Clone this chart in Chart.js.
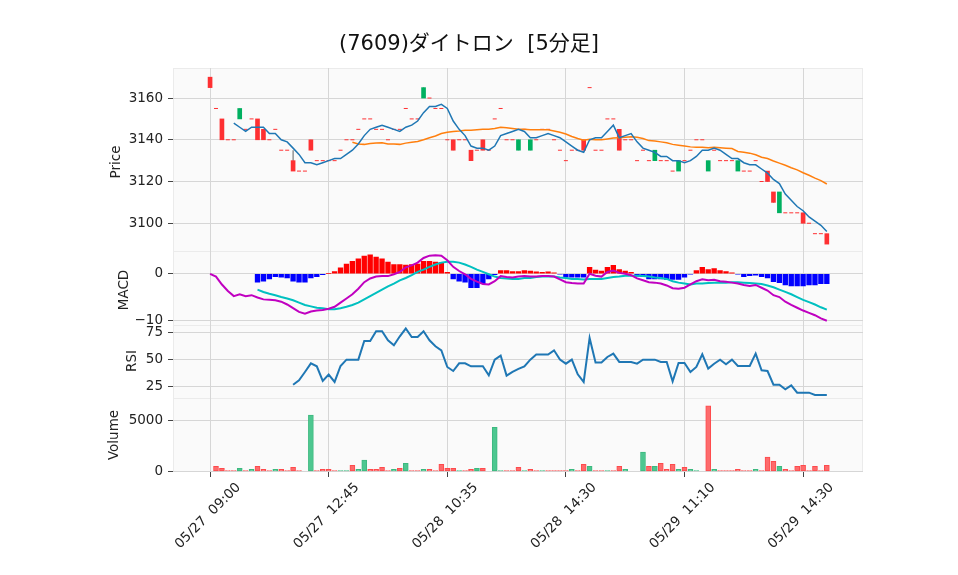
<!DOCTYPE html>
<html><head><meta charset="utf-8">
<script src="https://cdn.jsdelivr.net/npm/chart.js@4.4.1/dist/chart.umd.min.js"></script>
<style>html,body{margin:0;padding:0;background:#fff;}#wrap{width:958px;height:575px;}</style>
</head><body><div id="wrap"><canvas id="c" width="958" height="575"></canvas></div>
<script>
const chartTitle = '(7609)ダイトロン  [5分足]';
const tickIndex = [0, 20, 40, 60, 80, 100];
const tickLabels = ['05/27  09:00', '05/27  12:45', '05/28  10:35', '05/28  14:30', '05/29  11:10', '05/29  14:30'];

const opens = [3170,3155,3150,3140,3140,3150,3145,3150,3150,3145,
3140,3145,3135,3135,3130,3125,3125,3140,3130,3130,
3130,3130,3135,3140,3140,3145,3150,3150,3145,3145,
3140,3145,3145,3155,3150,3150,3160,3160,3155,3155,
3140,3140,3140,3140,3135,3135,3140,3135,3150,3155,
3140,3140,3135,3145,3135,3140,3145,3145,3140,3135,
3130,3135,3135,3140,3165,3135,3135,3150,3150,3145,
3140,3140,3130,3135,3130,3130,3130,3130,3125,3125,
3130,3135,3140,3140,3125,3135,3130,3130,3130,3125,
3125,3125,3130,3120,3125,3115,3105,3105,3105,3105,
3105,3100,3095,3095,3095];
const closes = [3165,3155,3140,3140,3140,3155,3145,3150,3140,3140,
3140,3145,3135,3135,3125,3125,3125,3135,3130,3130,
3130,3130,3135,3140,3140,3145,3150,3150,3145,3145,
3140,3145,3145,3155,3150,3150,3165,3160,3155,3155,
3140,3135,3140,3140,3130,3135,3135,3135,3150,3155,
3140,3140,3140,3145,3140,3140,3145,3145,3140,3135,
3130,3135,3135,3135,3165,3135,3135,3150,3150,3135,
3140,3140,3130,3135,3130,3135,3130,3130,3125,3130,
3130,3135,3140,3140,3130,3135,3130,3130,3130,3130,
3125,3125,3130,3120,3120,3110,3115,3105,3105,3105,
3100,3100,3095,3095,3090];
const highs = [3170,3155,3150,3140,3140,3155,3145,3150,3150,3145,
3140,3145,3135,3135,3135,3125,3125,3140,3130,3130,
3130,3130,3135,3140,3140,3145,3150,3150,3145,3145,
3140,3145,3145,3155,3150,3150,3165,3160,3155,3155,
3140,3140,3140,3140,3135,3135,3140,3135,3150,3155,
3140,3140,3140,3145,3140,3140,3145,3145,3140,3135,
3130,3135,3135,3140,3165,3135,3135,3150,3150,3145,
3140,3140,3130,3135,3130,3135,3130,3130,3125,3130,
3130,3135,3140,3140,3130,3135,3130,3130,3130,3130,
3125,3125,3130,3120,3125,3115,3115,3105,3105,3105,
3105,3100,3095,3095,3095];
const lows = [3165,3155,3140,3140,3140,3150,3145,3150,3140,3140,
3140,3145,3135,3135,3125,3125,3125,3135,3130,3130,
3130,3130,3135,3140,3140,3145,3150,3150,3145,3145,
3140,3145,3145,3155,3150,3150,3160,3160,3155,3155,
3140,3135,3140,3140,3130,3135,3135,3135,3150,3155,
3140,3140,3135,3145,3135,3140,3145,3145,3140,3135,
3130,3135,3135,3135,3165,3135,3135,3150,3150,3135,
3140,3140,3130,3135,3130,3130,3130,3130,3125,3125,
3130,3135,3140,3140,3125,3135,3130,3130,3130,3125,
3125,3125,3130,3120,3120,3110,3105,3105,3105,3105,
3100,3100,3095,3095,3090];

const ma5 = [null,null,null,null,3148,3146,3144,3146,3146,3146,
3143,3143,3140,3139,3136,3133,3129,3129,3128,3129,
3130,3131,3131,3133,3135,3138,3142,3145,3146,3147,
3146,3145,3144,3146,3147,3149,3153,3156,3156,3157,
3155,3149,3145,3142,3137,3136,3136,3135,3137,3142,
3143,3144,3145,3144,3141,3141,3142,3143,3142,3141,
3139,3137,3135,3134,3140,3141,3141,3144,3147,3141,
3142,3143,3139,3136,3135,3134,3132,3132,3130,3130,
3129,3130,3132,3135,3135,3136,3135,3133,3131,3131,
3129,3128,3128,3126,3124,3121,3119,3114,3111,3108,
3106,3103,3101,3099,3096];
const ma25 = [null,null,null,null,null,null,null,null,null,null,
null,null,null,null,null,null,null,null,null,null,
null,null,null,null,3138.8,3138.0,3137.8,3138.2,3138.4,3138.6,
3138.0,3138.0,3137.8,3138.4,3138.8,3139.2,3140.0,3141.0,3141.8,3143.0,
3143.6,3144.0,3144.2,3144.6,3144.6,3144.8,3145.0,3145.0,3145.4,3146.0,
3145.8,3145.4,3145.0,3145.0,3144.8,3144.8,3144.8,3144.8,3144.2,3143.6,
3142.8,3141.6,3140.6,3139.8,3140.2,3140.0,3140.0,3140.4,3140.8,3141.0,
3141.2,3141.4,3141.2,3140.6,3139.6,3139.4,3139.0,3138.6,3137.8,3137.4,
3137.0,3136.6,3136.4,3136.4,3136.2,3136.4,3136.2,3136.0,3135.8,3134.4,
3134.0,3133.6,3132.8,3131.6,3131.0,3129.8,3128.8,3127.8,3126.6,3125.6,
3124.2,3123.0,3121.6,3120.4,3118.8];

const macdLine = [0.0,-0.6,-2.3,-3.7,-4.8,-4.4,-4.8,-4.6,-5.1,-5.5,
-5.6,-5.7,-6.0,-6.6,-7.4,-8.2,-8.6,-8.1,-7.9,-7.8,
-7.5,-7.1,-6.2,-5.3,-4.4,-3.2,-1.8,-1.0,-0.6,-0.5,
-0.5,-0.1,0.4,1.4,1.8,2.4,3.4,3.9,4.0,3.9,
2.9,1.5,0.6,-0.1,-1.1,-1.7,-2.2,-2.3,-1.6,-0.5,
-0.7,-0.8,-0.6,-0.5,-0.6,-0.6,-0.5,-0.5,-0.6,-1.2,
-1.8,-2.0,-2.1,-2.1,0.0,-0.4,-0.6,0.4,0.7,0.2,
0.0,-0.3,-1.0,-1.4,-1.8,-1.9,-2.1,-2.5,-3.1,-3.2,
-3.0,-2.3,-1.6,-1.2,-1.4,-1.3,-1.6,-1.7,-1.9,-2.1,
-2.4,-2.6,-2.4,-3.0,-3.6,-4.6,-5.0,-6.0,-6.7,-7.3,
-7.9,-8.4,-8.9,-9.6,-10.1];
const signalLine = [null,null,null,null,null,null,null,null,-3.4,-3.9,
-4.3,-4.6,-5.0,-5.3,-5.7,-6.2,-6.7,-7.0,-7.3,-7.4,
-7.6,-7.6,-7.4,-7.1,-6.7,-6.2,-5.5,-4.8,-4.1,-3.4,
-2.7,-2.1,-1.4,-0.9,-0.3,0.4,0.9,1.5,2.0,2.4,
2.6,2.6,2.4,2.0,1.5,0.9,0.4,-0.1,-0.6,-0.9,
-1.0,-1.1,-1.1,-0.9,-0.9,-0.7,-0.6,-0.6,-0.6,-0.8,
-0.9,-1.1,-1.1,-1.2,-1.1,-1.1,-1.1,-0.9,-0.7,-0.6,
-0.4,-0.4,-0.4,-0.5,-0.6,-0.8,-0.9,-1.1,-1.6,-1.9,
-2.1,-2.3,-2.1,-2.1,-2.0,-1.9,-1.9,-1.9,-1.8,-1.8,
-1.9,-2.0,-2.1,-2.2,-2.5,-2.9,-3.4,-3.9,-4.4,-5.0,
-5.6,-6.1,-6.6,-7.2,-7.7];
const macdHist = [null,null,null,null,null,null,null,null,-1.8,-1.6,
-1.1,-0.6,-0.7,-0.9,-1.6,-1.8,-1.8,-0.9,-0.6,-0.2,
0.1,0.5,1.3,2.1,2.7,3.2,3.8,4.1,3.6,3.2,
2.5,2.0,2.0,1.9,2.0,2.1,2.7,2.7,2.5,2.4,
0.3,-1.1,-1.6,-1.8,-3.0,-3.0,-2.1,-1.1,-0.2,0.7,
0.7,0.5,0.5,0.7,0.6,0.4,0.3,0.4,0.2,-0.1,
-0.7,-0.7,-0.7,-0.7,1.4,0.8,0.6,1.4,1.8,0.9,
0.6,0.3,-0.5,-0.6,-1.1,-1.1,-1.1,-1.2,-1.2,-1.2,
-0.7,-0.1,0.7,1.4,0.9,1.1,0.7,0.5,0.2,-0.1,
-0.6,-0.4,-0.3,-0.6,-0.9,-1.7,-1.9,-2.4,-2.6,-2.6,
-2.6,-2.4,-2.4,-2.1,-2.1];

const rsi = [null,null,null,null,null,null,null,null,null,null,
null,null,null,null,27.1,31.1,38.7,46.6,43.9,30.5,
36.3,29.6,44.2,50,50,50,67.1,67.1,75.9,75.9,
67.7,63.1,71.3,78.4,70.7,70.7,75.9,67.7,62.2,58.5,
43.3,39.6,46.6,46.6,43.9,43.9,43.9,35.7,50,53.7,
35.4,38.8,41.5,43.9,50,54.6,54.6,54.6,58.5,50,
46.3,50,36.6,29.6,69.8,47.3,47.3,52.4,55.5,47.9,
47.9,47.9,46.3,50,50,50,47.9,47.9,30.2,47,
47,38.7,43.3,54.9,41.8,46.3,50,45.7,50,44.2,
44.2,44.2,55.5,40.2,39.6,27.1,27.1,22.9,26.5,19.8,
19.8,19.8,17.7,17.7,17.7];

const volume = [0,500,300,100,100,300,100,200,500,200,
100,200,200,100,400,100,0,5500,100,200,
200,100,100,100,600,200,1100,200,200,400,
100,200,300,800,100,100,200,200,100,700,
300,300,100,100,200,300,300,0,4300,100,
100,100,400,100,200,100,100,100,100,100,
100,200,100,700,500,100,100,100,100,500,
200,0,0,1900,500,500,800,200,700,200,
400,200,100,0,6400,200,100,100,100,200,
100,100,200,100,1400,1000,500,200,100,500,
600,100,500,100,600];

const priceTicks = [3100, 3120, 3140, 3160];
const macdTicks = [-10, 0];
const rsiTicks = [25, 50, 75];
const volTicks = [0, 5000];

// ---------- build datasets ----------
const FONT = "'DejaVu Sans', 'Noto Sans CJK JP', sans-serif";
const UP = '#00b060', DOWN = '#fe3032';
const bodyPts = [], bodyCol = [], dojiPts = [], wickPts = [];
for (let i = 0; i < closes.length; i++) {
  const o = opens[i], c = closes[i];
  if (o !== c) { bodyPts.push({x: i, y: [o, c]}); bodyCol.push(c > o ? UP : DOWN); }
  else dojiPts.push({x: i, y: c});
  if (highs[i] > lows[i]) wickPts.push({x: i, y: [lows[i], highs[i]]});
}
const series = arr => arr.map((v, i) => ({x: i, y: v})).filter(p => p.y !== null);
const volPts = [], volBg = [], volBd = [];
volume.forEach((v, i) => {
  if (v > 0) {
    volPts.push({x: i, y: v});
    const up = i > 0 && closes[i] > closes[i - 1];
    volBg.push(up ? '#4dc790' : '#fd6b6c');
    volBd.push(up ? '#3cb97f' : '#fe4a4c');
  }
});
const histPts = series(macdHist);

function yAxis(min, max, ticks, weight, stackWeight, fmt) {
  return {
    type: 'linear', position: 'left', stack: 'panels', stackWeight, weight,
    min, max, offset: false,
    border: {display: false},
    grid: {color: '#d6d6d6', lineWidth: 1, tickLength: 5, tickColor: '#444', drawTicks: true, offset: false},
    ticks: {font: {family: FONT, size: 13.5}, color: '#222', padding: 5, autoSkip: false, callback: fmt},
    afterBuildTicks(s) { s.ticks = ticks.map(v => ({value: v})); },
    afterFit(s) { s.width = 173; }
  };
}

const panelIds = ['yPrice', 'yMacd', 'yRsi', 'yVol'];
const deco = {
  id: 'deco',
  beforeDraw(chart) {
    const {ctx, chartArea: a} = chart;
    ctx.save();
    ctx.fillStyle = '#ffffff';
    ctx.fillRect(0, 0, chart.width, chart.height);
    for (const id of panelIds) {
      const s = chart.scales[id];
      ctx.fillStyle = '#fafafa';
      ctx.fillRect(a.left, Math.round(s.top), a.right - a.left, Math.round(s.bottom) - Math.round(s.top));
    }
    ctx.strokeStyle = '#ebebeb';
    ctx.lineWidth = 1;
    ctx.strokeRect(a.left + 0.5, a.top + 0.5, a.right - a.left - 1, a.bottom - a.top - 1);
    for (const id of ['yMacd', 'yRsi', 'yVol']) {
      const y = Math.round(chart.scales[id].top) + 0.5;
      ctx.beginPath(); ctx.moveTo(a.left, y); ctx.lineTo(a.right, y); ctx.stroke();
    }
    ctx.restore();
  },
  afterDraw(chart) {
    const ctx = chart.ctx;
    ctx.save();
    ctx.textAlign = 'center';
    ctx.textBaseline = 'middle';
    ctx.fillStyle = '#111';
    ctx.font = '21px ' + FONT;
    ctx.fillText(chartTitle, 469, 45);
    ctx.fillStyle = '#222';
    ctx.font = '13.5px ' + FONT;
    const titles = [['Price', 116, 162], ['MACD', 124, 290], ['RSI', 132, 361], ['Volume', 114, 435]];
    for (const [t, x, y] of titles) {
      ctx.save(); ctx.translate(x, y); ctx.rotate(-Math.PI / 2); ctx.fillText(t, 0, 0); ctx.restore();
    }
    const xs = chart.scales.x;
    tickIndex.forEach((v, k) => {
      const px = xs.getPixelForValue(v);
      ctx.save(); ctx.translate(px - 2, 516); ctx.rotate(-Math.PI / 4); ctx.fillText(tickLabels[k], 0, 0); ctx.restore();
    });
    ctx.restore();
  }
};

new Chart(document.getElementById('c'), {
  data: {
    datasets: [
      {type: 'bar', label: 'wick', yAxisID: 'yPrice', data: wickPts, backgroundColor: '#606060',
       barThickness: 1, grouped: false, inflateAmount: 0, order: 20},
      {type: 'bar', label: 'body', yAxisID: 'yPrice', data: bodyPts, backgroundColor: bodyCol,
       barThickness: 4, grouped: false, order: 19},
      {type: 'line', label: 'doji', yAxisID: 'yPrice', data: dojiPts, showLine: false,
       pointStyle: 'line', pointRadius: 2, pointBorderColor: DOWN, pointBorderWidth: 1, order: 18},
      {type: 'line', label: 'MA5', yAxisID: 'yPrice', data: series(ma5), borderColor: '#1f77b4',
       borderWidth: 1.5, pointRadius: 0, tension: 0, order: 2},
      {type: 'line', label: 'MA25', yAxisID: 'yPrice', data: series(ma25), borderColor: '#ff7f0e',
       borderWidth: 1.5, pointRadius: 0, tension: 0, order: 3},
      {type: 'bar', label: 'hist', yAxisID: 'yMacd', data: histPts,
       backgroundColor: histPts.map(p => p.y >= 0 ? '#ff0000' : '#0000ff'),
       barThickness: 4.7, grouped: false, order: 15},
      {type: 'line', label: 'MACD', yAxisID: 'yMacd', data: series(macdLine), borderColor: '#c000c0',
       borderWidth: 2, pointRadius: 0, tension: 0, order: 5},
      {type: 'line', label: 'Signal', yAxisID: 'yMacd', data: series(signalLine), borderColor: '#00c0c0',
       borderWidth: 2, pointRadius: 0, tension: 0, order: 6},
      {type: 'line', label: 'RSI', yAxisID: 'yRsi', data: series(rsi), borderColor: '#1f77b4',
       borderWidth: 2, pointRadius: 0, tension: 0, order: 4},
      {type: 'bar', label: 'Volume', yAxisID: 'yVol', data: volPts, backgroundColor: volBg,
       borderColor: volBd, borderWidth: 1, borderSkipped: false, barThickness: 5, grouped: false, order: 16}
    ]
  },
  options: {
    responsive: false, animation: false, devicePixelRatio: 1,
    layout: {padding: {left: 0, right: 95, top: 68, bottom: 93}},
    plugins: {legend: {display: false}, tooltip: {enabled: false}},
    scales: {
      x: {
        type: 'linear', position: 'bottom', min: -6.25, max: 110.1, offset: false,
        border: {display: false},
        grid: {color: '#d6d6d6', lineWidth: 1, tickLength: 5, tickColor: '#444', offset: false},
        ticks: {display: false},
        afterBuildTicks(s) { s.ticks = tickIndex.map(v => ({value: v})); },
        afterFit(s) { s.height = 10; }
      },
      yPrice: yAxis(3086.7, 3174.4, priceTicks, 4, 183, v => String(v)),
      yMacd: yAxis(-10.9, 4.9, macdTicks, 3, 73.5, v => v < 0 ? '\u2212' + Math.abs(v) : String(v)),
      yRsi: yAxis(15.4, 82.1, rsiTicks, 2, 73, v => String(v)),
      yVol: yAxis(-50, 7200, volTicks, 1, 74.5, v => String(v))
    }
  },
  plugins: [deco]
});
</script>
</body></html>
